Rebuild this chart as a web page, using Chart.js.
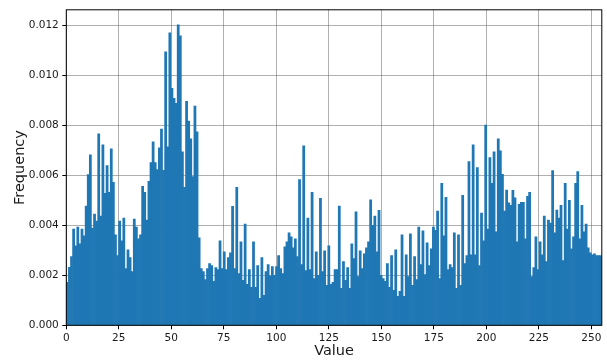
<!DOCTYPE html>
<html>
<head>
<meta charset="utf-8">
<script src="https://cdn.jsdelivr.net/npm/chart.js@4.4.1/dist/chart.umd.min.js"></script>
<style>
  html, body { margin: 0; padding: 0; background: #fff; }
  canvas { display: block; }
</style>
</head>
<body>
<canvas id="hist" width="607" height="360"></canvas>
<script>
// Histogram of pixel values: 256 bins spread over [0, 255]
const valueRange = [0, 255];

const frequency = [
  0.00172, 0.00232, 0.00275, 0.00385, 0.00318, 0.00393, 0.00326, 0.00385, 0.00358, 0.00477,
  0.00603, 0.00682, 0.00389, 0.00445, 0.00417, 0.00766, 0.00437, 0.00722, 0.00528, 0.00639,
  0.00532, 0.00706, 0.00572, 0.00362, 0.00279, 0.00417, 0.00338, 0.00429, 0.00227, 0.00302,
  0.00271, 0.00215, 0.00425, 0.00393, 0.00346, 0.00362, 0.00556, 0.00532, 0.00421, 0.00576,
  0.00651, 0.00734, 0.00651, 0.00623, 0.00710, 0.00785, 0.00620, 0.01094, 0.00714, 0.01170,
  0.00948, 0.00908, 0.00888, 0.01202, 0.01158, 0.00694, 0.00552, 0.00896, 0.00817, 0.00746,
  0.00595, 0.00877, 0.00774, 0.00350, 0.00227, 0.00215, 0.00183, 0.00227, 0.00247, 0.00239,
  0.00176, 0.00231, 0.00223, 0.00338, 0.00227, 0.00294, 0.00223, 0.00271, 0.00290, 0.00476,
  0.00227, 0.00552, 0.00207, 0.00334, 0.00180, 0.00405, 0.00164, 0.00223, 0.00152, 0.00334,
  0.00152, 0.00239, 0.00108, 0.00271, 0.00120, 0.00215, 0.00243, 0.00198, 0.00235, 0.00200,
  0.00235, 0.00279, 0.00227, 0.00207, 0.00314, 0.00334, 0.00370, 0.00354, 0.00310, 0.00346,
  0.00275, 0.00583, 0.00243, 0.00718, 0.00219, 0.00429, 0.00223, 0.00532, 0.00187, 0.00294,
  0.00200, 0.00508, 0.00215, 0.00298, 0.00160, 0.00318, 0.00164, 0.00172, 0.00223, 0.00223,
  0.00477, 0.00148, 0.00255, 0.00180, 0.00231, 0.00148, 0.00326, 0.00267, 0.00454, 0.00195,
  0.00298, 0.00227, 0.00286, 0.00310, 0.00334, 0.00502, 0.00400, 0.00437, 0.00294, 0.00460,
  0.00200, 0.00187, 0.00176, 0.00247, 0.00152, 0.00279, 0.00140, 0.00302, 0.00116, 0.00136,
  0.00362, 0.00116, 0.00282, 0.00195, 0.00366, 0.00160, 0.00275, 0.00183, 0.00393, 0.00243,
  0.00378, 0.00203, 0.00330, 0.00239, 0.00306, 0.00393, 0.00380, 0.00457, 0.00187, 0.00568,
  0.00358, 0.00512, 0.00223, 0.00243, 0.00231, 0.00370, 0.00148, 0.00362, 0.00160, 0.00520,
  0.00247, 0.00279, 0.00655, 0.00282, 0.00722, 0.00282, 0.00631, 0.00239, 0.00449, 0.00338,
  0.00801, 0.00385, 0.00671, 0.00568, 0.00694, 0.00374, 0.00746, 0.00698, 0.00604, 0.00457,
  0.00541, 0.00490, 0.00480, 0.00540, 0.00510, 0.00334, 0.00484, 0.00492, 0.00492, 0.00346,
  0.00516, 0.00532, 0.00195, 0.00231, 0.00354, 0.00223, 0.00334, 0.00282, 0.00437, 0.00255,
  0.00421, 0.00409, 0.00619, 0.00370, 0.00461, 0.00429, 0.00480, 0.00259, 0.00568, 0.00385,
  0.00500, 0.00306, 0.00354, 0.00568, 0.00615, 0.00346, 0.00480, 0.00374, 0.00405, 0.00310,
  0.00290, 0.00282, 0.00286, 0.00279, 0.00279, 0.00279
];

const xTicks = [0, 25, 50, 75, 100, 125, 150, 175, 200, 225, 250];
const yTicks = [0, 0.002, 0.004, 0.006, 0.008, 0.010, 0.012];

const binWidth = (valueRange[1] - valueRange[0]) / frequency.length;
const bins = frequency.map((f, i) => ({ x: valueRange[0] + (i + 0.5) * binWidth, y: f }));
const yTop = Math.max(...frequency) * 1.05;

const FONT = "'DejaVu Sans', 'Liberation Sans', sans-serif";
const GRID = 'rgba(96, 96, 96, 0.5)';

// Closed frame around the plotting area
const framePlugin = {
  id: 'frame',
  afterDraw(chart) {
    const { ctx, chartArea: a } = chart;
    ctx.save();
    ctx.strokeStyle = '#000';
    ctx.lineWidth = 1;
    ctx.strokeRect(a.left, a.top, a.right - a.left, a.bottom - a.top);
    ctx.restore();
  }
};

new Chart(document.getElementById('hist'), {
  type: 'bar',
  data: {
    datasets: [{
      data: bins,
      backgroundColor: '#1f77b4',
      borderWidth: 0,
      barPercentage: 1.0,
      categoryPercentage: 1.0
    }]
  },
  options: {
    responsive: false,
    animation: false,
    devicePixelRatio: 1,
    layout: { padding: { left: 0, right: 5.2, top: 6.5, bottom: 0 } },
    plugins: { legend: { display: false }, tooltip: { enabled: false } },
    scales: {
      x: {
        type: 'linear',
        min: valueRange[0],
        max: valueRange[1],
        offset: false,
        z: 1,
        afterBuildTicks: s => { s.ticks = xTicks.map(v => ({ value: v })); },
        afterFit: s => { s.height = 34.7; },
        grid: { offset: false, color: GRID, lineWidth: 1, tickColor: '#000', tickLength: 4 },
        border: { display: false },
        ticks: {
          color: '#1a1a1a', padding: 3, maxRotation: 0,
          font: { family: FONT, size: 10.5 },
          callback: v => String(v)
        },
        title: {
          display: true, text: 'Value', color: '#1a1a1a',
          font: { family: FONT, size: 14.5 },
          padding: { top: 0, bottom: 0 }
        }
      },
      y: {
        type: 'linear',
        min: 0,
        max: yTop,
        z: 1,
        afterBuildTicks: s => { s.ticks = yTicks.map(v => ({ value: v })); },
        afterFit: s => { s.width = 66.3; },
        grid: { color: GRID, lineWidth: 1, tickColor: '#000', tickLength: 4 },
        border: { display: false },
        ticks: {
          color: '#1a1a1a', padding: 3.5,
          font: { family: FONT, size: 10.5 },
          callback: v => Number(v).toFixed(3)
        },
        title: {
          display: true, text: 'Frequency', color: '#1a1a1a',
          font: { family: FONT, size: 14.5 },
          padding: { top: 11.6, bottom: 0 }
        }
      }
    }
  },
  plugins: [framePlugin]
});
</script>
</body>
</html>
